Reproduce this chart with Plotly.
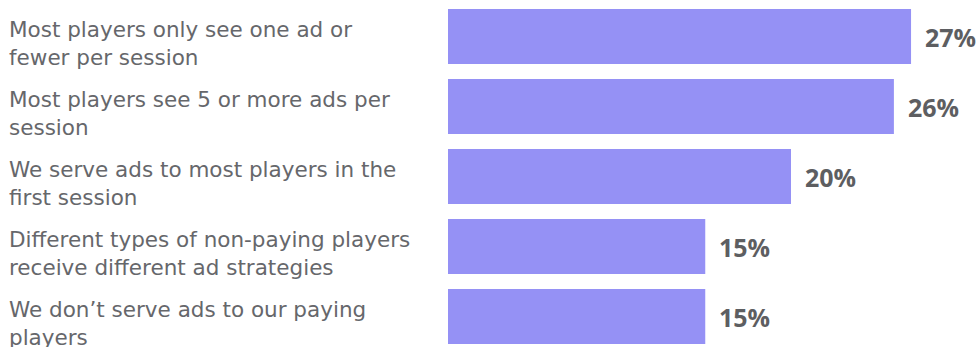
import plotly.graph_objects as go

categories = [
    "Most players only see one ad or<br>fewer per session",
    "Most players see 5 or more ads per<br>session",
    "We serve ads to most players in the<br>first session",
    "Different types of non-paying players<br>receive different ad strategies",
    "We don\u2019t serve ads to our paying<br>players",
]
values = [27, 26, 20, 15, 15]
value_labels = ["27%", "26%", "20%", "15%", "15%"]

BAR_COLOR = "#9591F5"

W, H = 976, 347
LEFT = 448
PX_PER_UNIT = 17.15
ROW_PX = 70
FIRST_CENTER_PX = 36.5

fig = go.Figure(
    go.Bar(
        x=values,
        y=categories,
        orientation="h",
        marker=dict(color=BAR_COLOR, line=dict(width=0)),
        width=55 / ROW_PX,
        hoverinfo="skip",
    )
)

# category labels, left-aligned in the left margin
for cat in categories:
    fig.add_annotation(
        x=0, xref="paper", y=cat, yref="y",
        text=cat, showarrow=False,
        xanchor="left", yanchor="middle", align="left",
        xshift=-(LEFT - 7), yshift=-7,
        font=dict(family="DejaVu Sans", size=21.5, color="#66676b"),
    )

# value labels just past the end of each bar
for cat, v, lab in zip(categories, values, value_labels):
    fig.add_annotation(
        x=v, y=cat, text="<b>" + lab + "</b>", showarrow=False,
        xanchor="left", yanchor="middle", xshift=12,
        font=dict(family="Open Sans", size=25, color="#5d5e61"),
    )

top = -FIRST_CENTER_PX / ROW_PX
bottom = top + H / ROW_PX

fig.update_layout(
    width=W, height=H,
    margin=dict(l=LEFT, r=0, t=0, b=0, pad=0),
    paper_bgcolor="white", plot_bgcolor="white",
    showlegend=False,
    xaxis=dict(range=[0, (W - LEFT) / PX_PER_UNIT], visible=False, fixedrange=True),
    yaxis=dict(range=[bottom, top], visible=False, fixedrange=True),
)

fig.write_html("out.html")
